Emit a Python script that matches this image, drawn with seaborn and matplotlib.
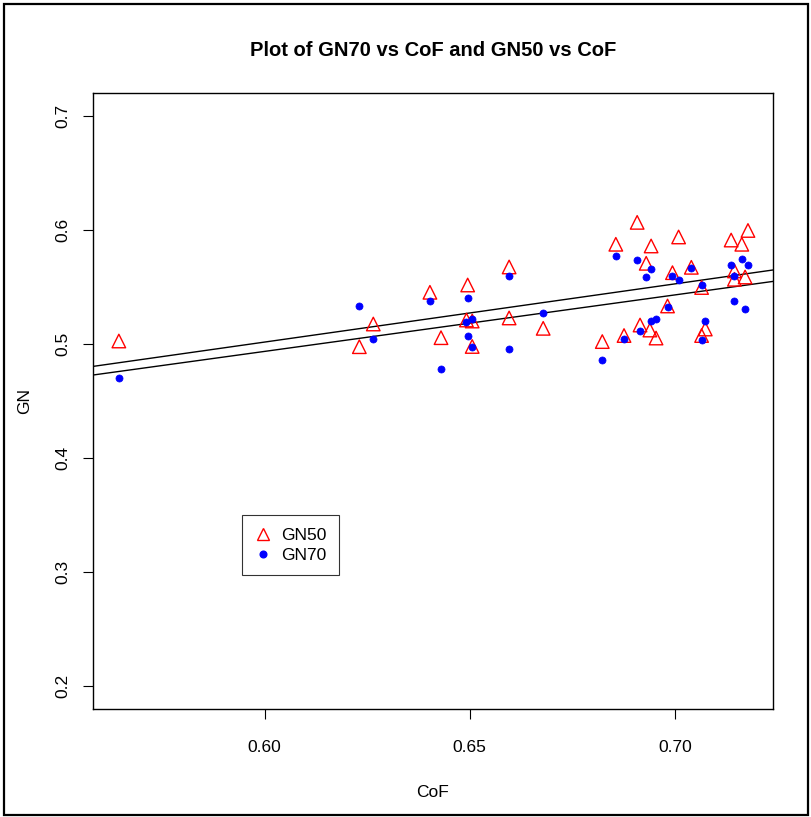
import numpy as np
import pandas as pd
import matplotlib
matplotlib.use("Agg")
import matplotlib.pyplot as plt
import seaborn as sns
from matplotlib.patches import Rectangle
from matplotlib.lines import Line2D

# ---- data ----
cof_50 = [0.5645, 0.6231, 0.6265, 0.6403, 0.6430, 0.6495, 0.6492, 0.6506, 0.6506,
          0.6596, 0.6596, 0.6679, 0.6823, 0.6856, 0.6876, 0.6908, 0.6915, 0.6930,
          0.6942, 0.6939, 0.6954, 0.6982, 0.6994, 0.7009, 0.7040, 0.7065, 0.7074,
          0.7065, 0.7137, 0.7163, 0.7178, 0.7145, 0.7145, 0.7171]
gn50 = [0.5026, 0.4976, 0.5175, 0.5453, 0.5055, 0.5517, 0.5210, 0.5201, 0.4978,
        0.5675, 0.5228, 0.5137, 0.5021, 0.5874, 0.5074, 0.6066, 0.5166, 0.5707,
        0.5859, 0.5122, 0.5052, 0.5333, 0.5625, 0.5938, 0.5672, 0.5495, 0.5131,
        0.5074, 0.5911, 0.5874, 0.5995, 0.5640, 0.5567, 0.5587]

cof_70 = [0.5645, 0.6231, 0.6265, 0.6403, 0.6430, 0.6495, 0.6492, 0.6506, 0.6495,
          0.6506, 0.6596, 0.6596, 0.6679, 0.6823, 0.6856, 0.6876, 0.6908, 0.6915,
          0.6930, 0.6942, 0.6942, 0.6954, 0.6982, 0.6994, 0.7009, 0.7040, 0.7065,
          0.7065, 0.7074, 0.7137, 0.7163, 0.7178, 0.7145, 0.7145, 0.7171]
gn70 = [0.4699, 0.5333, 0.5041, 0.5374, 0.4783, 0.5407, 0.5190, 0.5219, 0.5072,
        0.4973, 0.5598, 0.4960, 0.5270, 0.4857, 0.5775, 0.5041, 0.5733, 0.5116,
        0.5589, 0.5661, 0.5199, 0.5221, 0.5321, 0.5598, 0.5561, 0.5663, 0.5519,
        0.5032, 0.5197, 0.5694, 0.5745, 0.5694, 0.5598, 0.5374, 0.5304]

series_labels = ["GN50", "GN70"]
x_ticks = [0.60, 0.65, 0.70]
y_ticks = [0.2, 0.3, 0.4, 0.5, 0.6, 0.7]

df50 = pd.DataFrame({"CoF": cof_50, "GN": gn50})
df70 = pd.DataFrame({"CoF": cof_70, "GN": gn70})

sns.set_style("ticks")
plt.rcParams["font.family"] = ["Liberation Sans", "DejaVu Sans"]
plt.rcParams["text.color"] = "black"
plt.rcParams["axes.labelcolor"] = "black"

fig = plt.figure(figsize=(8.12, 8.17), dpi=100)
ax = fig.add_axes([93/812, 1-709/817, 680/812, 616/817])

sns.scatterplot(data=df50, x="CoF", y="GN", ax=ax, marker="^", s=95,
                facecolors="none", edgecolor="red", linewidth=1.0, zorder=3)
sns.scatterplot(data=df70, x="CoF", y="GN", ax=ax, marker="o", s=26,
                color="blue", edgecolor="blue", linewidth=0.5, zorder=4)

# least squares lines spanning the whole box
for xs, ys in [(cof_50, gn50), (cof_70, gn70)]:
    b, a = np.polyfit(xs, ys, 1)
    ax.axline((0.6, a + b*0.6), slope=b, color="black", linewidth=1.0, zorder=2)

ax.set_xlim(0.5582, 0.7239)
ax.set_ylim(0.18, 0.72)
ax.set_xticks(x_ticks)
ax.set_xticklabels([f"{v:.2f}" for v in x_ticks])
ax.set_yticks(y_ticks)
ax.set_yticklabels([f"{v:.1f}" for v in y_ticks], rotation=90, va="center")
ax.tick_params(axis="both", direction="out", length=7, width=0.8, labelsize=12.5,
               colors="black", labelcolor="black")
ax.tick_params(axis="x", pad=15)
ax.tick_params(axis="y", pad=9)
for sp in ax.spines.values():
    sp.set_visible(True)
    sp.set_color("black")
    sp.set_linewidth(1.0)

ax.set_xlabel("CoF", fontsize=12.5, labelpad=22)
ax.set_ylabel("GN", fontsize=12.5, labelpad=17)
fig.text(0.5 * (93+773)/812, 1-50/817, "Plot of GN70 vs CoF and GN50 vs CoF",
         ha="center", va="center", fontsize=14.5, fontweight="bold", color="black")

handles = [Line2D([], [], marker="^", linestyle="none", markerfacecolor="none",
                  markeredgecolor="red", markersize=9),
           Line2D([], [], marker="o", linestyle="none", color="blue", markersize=4.8)]
leg = ax.legend(handles, series_labels, loc="upper left",
                bbox_to_anchor=((242-93)/680, 1-(515-93)/616), fontsize=12.5,
                frameon=True, fancybox=False, edgecolor="black", borderpad=0.72,
                handlelength=1.0, handletextpad=0.55, labelspacing=0.28,
                borderaxespad=0)
leg.get_frame().set_linewidth(0.8)
for t in leg.get_texts():
    t.set_color("black")

fig.add_artist(Rectangle((4/812, 2/817), 804/812, 811/817, transform=fig.transFigure,
                         fill=False, edgecolor="black", linewidth=1.6))

fig.savefig("out.png", dpi=100)
